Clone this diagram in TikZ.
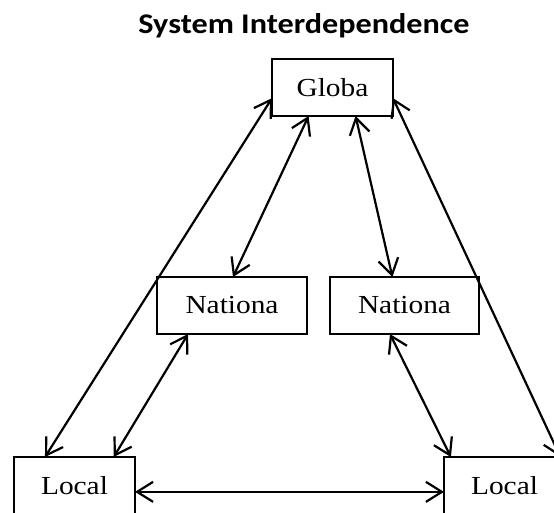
\documentclass[tikz,border=0pt]{standalone}
\usepackage{fontspec}
\setmainfont{Liberation Serif}[FakeStretch=1.13]
\newfontfamily\titlefont{Carlito}[FakeStretch=1.13]
\usetikzlibrary{arrows.meta}
\tikzset{
  level/.style={draw,line width=1.9pt,inner sep=0pt,outer sep=0pt,
    minimum height=57pt,font=\fontsize{26}{30}\selectfont},
  link/.style={line width=2.2pt,{Straight Barb[length=16pt,width=20pt]}-{Straight Barb[length=16pt,width=20pt]}}
}
\begin{document}
\begin{tikzpicture}[x=1pt,y=-1pt]
\useasboundingbox (0,0) rectangle (554,512);
\clip (0,0) rectangle (554,512);
\node[anchor=base,font=\titlefont\bfseries\fontsize{28.5}{32}\selectfont] (title) at (304,33) {System Interdependence};
\node[level,minimum width=121pt] (glob) at (332.5,87.5) {Globa};
\node[level,minimum width=150pt] (natL) at (232,305.5) {Nationa};
\node[level,minimum width=149pt] (natR) at (404.5,305.5) {Nationa};
\node[level,minimum width=121pt] (locL) at (74.5,485.5) {Local};
\node[level,minimum width=121pt] (locR) at (504.5,485.5) {Local};
\draw[link] (glob.190) -- (locL.136);
\draw[link] (glob.230.5) -- (natL.88);
\draw[link] (glob.309.5) -- (natR.113.7);
\draw[link] (glob.350.9) -- (locR.27);
\draw[link] (natL.213.5) -- (locL.36.5);
\draw[link] (natR.243) -- (locR.152.4);
\draw[link] (locL.354) -- (locR.186);
\end{tikzpicture}
\end{document}
